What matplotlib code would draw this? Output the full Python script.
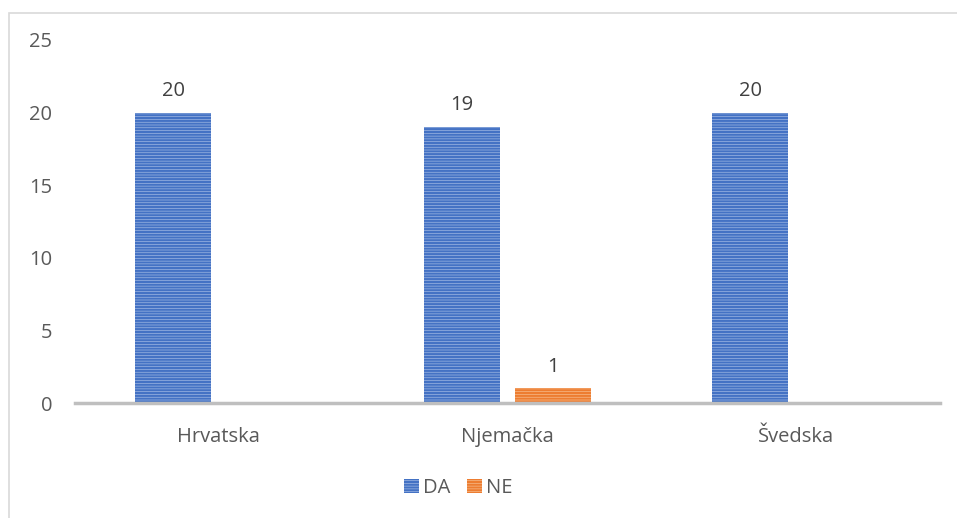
import matplotlib.pyplot as plt
import numpy as np
from matplotlib.patches import Rectangle

# podaci
drzave = ['Hrvatska', 'Njemačka', 'Švedska']
da = [20, 19, 20]
ne = [0, 1, 0]

plt.rcParams['font.family'] = ['Open Sans', 'DejaVu Sans']
plt.rcParams['hatch.linewidth'] = 1.6

fig = plt.figure(figsize=(9.57, 5.18), dpi=100)
ax = fig.add_axes([0.078, 0.222, 0.904, 0.701])

# okvir grafikona
fig.patches.append(Rectangle((9 / 957, -0.1), 1.2, 1.1 - 13 / 518,
                             transform=fig.transFigure, fill=False,
                             edgecolor='#d9d9d9', linewidth=1.2))

x = np.arange(len(drzave))
w = 0.264
off = 0.158
fs = 14.5

plava = ax.bar(x - off, da, w, color='#b4c7ea', edgecolor='#4472c4',
               hatch='------', linewidth=0, label='DA')
narancasta = ax.bar(x + off, ne, w, color='#f8c9a0', edgecolor='#ed7d31',
                    hatch='------', linewidth=0, label='NE')

for b, v in zip(plava, da):
    ax.text(b.get_x() + b.get_width() / 2, v + 0.8, str(v), ha='center',
            va='bottom', fontsize=fs, color='#404040')
for b, v in zip(narancasta, ne):
    if v > 0:
        ax.text(b.get_x() + b.get_width() / 2, v + 0.8, str(v), ha='center',
                va='bottom', fontsize=fs, color='#404040')

ax.set_ylim(0, 25)
ax.set_xlim(-0.5, 2.5)
ax.set_yticks([0, 5, 10, 15, 20, 25])
ax.set_xticks(x)
ax.set_xticklabels(drzave)
ax.tick_params(axis='both', length=0, labelsize=fs, labelcolor='#595959')
ax.tick_params(axis='y', pad=16)
ax.tick_params(axis='x', pad=17)

for s in ['top', 'right', 'left']:
    ax.spines[s].set_visible(False)
ax.spines['bottom'].set_color('#bfbfbf')
ax.spines['bottom'].set_linewidth(2.5)

fig.legend(handles=[plava, narancasta], loc='center', bbox_to_anchor=(0.479, 0.058),
           ncol=2, frameon=False, fontsize=fs, labelcolor='#595959',
           handlelength=0.75, handleheight=0.75, handletextpad=0.2, columnspacing=0.8)

fig.savefig('out.png', dpi=100)
